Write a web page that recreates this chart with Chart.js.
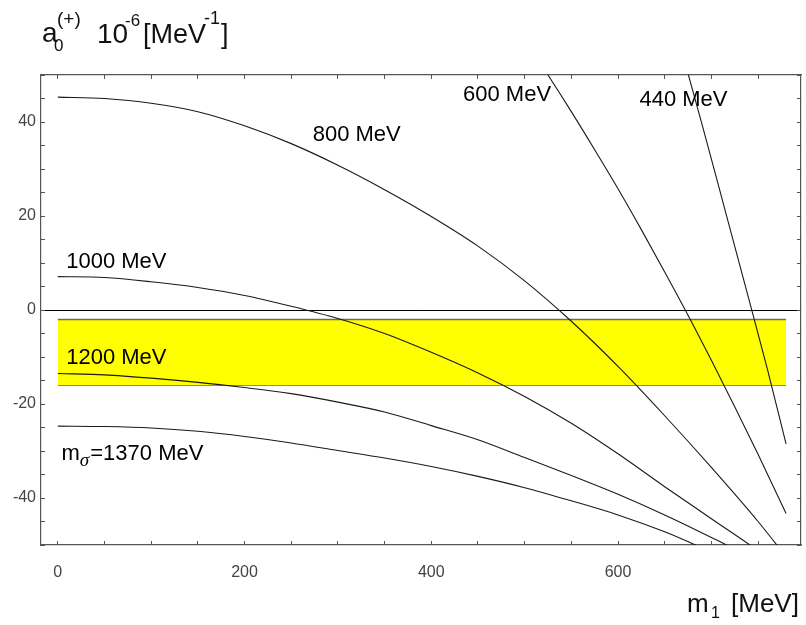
<!DOCTYPE html>
<html>
<head>
<meta charset="utf-8">
<script src="https://cdn.jsdelivr.net/npm/chart.js@4.4.0/dist/chart.umd.min.js"></script>
<style>
html, body { margin: 0; padding: 0; background: #fff; }
</style>
</head>
<body>
<canvas id="myChart" width="806" height="625"></canvas>
<script>
// m1 [MeV] grid for the four flat curves
var m1 = [0, 50, 100, 150, 200, 250, 300, 350, 400, 450, 500, 550, 600, 650, 700, 750, 780];
var a800  = [45.3, 45.0, 44.0, 42.2, 39.2, 35.4, 30.8, 25.6, 19.9, 13.6, 6.2, -2.4, -12.0, -22.5, -33.5, -45.0, -52.5];
var a1000 = [7.1, 6.9, 6.0, 4.8, 3.1, 0.8, -1.8, -5.0, -9.0, -13.4, -18.4, -24.1, -30.6, -37.6, -44.4, -51.2, -55.5];
var a1200 = [-13.5, -13.8, -14.5, -15.4, -16.5, -17.8, -19.6, -21.7, -24.6, -27.6, -31.4, -35.2, -39.2, -43.6, -48.4, -53.5, -57.0];
var a1370 = [-24.7, -24.8, -25.1, -25.8, -26.9, -28.3, -29.9, -31.5, -33.3, -35.4, -37.8, -40.6, -43.6, -47.2, -51.5, -56.0, -59.0];

// the two steep curves
var x600 = [500, 525, 550, 575, 600, 625, 650, 675, 700, 725, 750, 780];
var a600 = [57.5, 50.0, 42.2, 34.1, 25.8, 17.1, 8.1, -1.1, -10.7, -20.6, -30.7, -43.3];
var x440 = [665, 690, 715, 740, 760, 780];
var a440 = [57.5, 39.5, 21.0, 2.4, -12.6, -28.5];

// yellow band
var bandX = [0, 780];
var bandTop = [-2, -2];
var bandBottom = [-16, -16];

// curve labels (data coords of left end / baseline)
var labelText = ['800 MeV', '1000 MeV', '600 MeV', '440 MeV', '1200 MeV', '=1370 MeV'];
var labelX = [273, 9, 434, 623, 9, 4];
var labelY = [36.0, 9.0, 44.5, 43.4, -11.4, -32.0];

var xMin = -18, xMax = 796;
var yMin = -50, yMax = 50;

var fam = '"Liberation Sans", Arial, sans-serif';

function pts(xs, ys) {
	var out = [];
	for (var i = 0; i < xs.length; i++) out.push({x: xs[i], y: ys[i]});
	return out;
}

function curve(xs, ys) {
	return {
		data: pts(xs, ys),
		borderColor: '#1a1a1a',
		borderWidth: 1.1,
		pointRadius: 0,
		fill: false,
		cubicInterpolationMode: 'monotone',
		order: 1
	};
}

/* テキストの描画（曲線ラベル・軸タイトル） */
var textPlugin = {
	id: 'texts',
	afterDatasetsDraw: function(chart) {
		var ctx = chart.ctx;
		var xs = chart.scales.x, ys = chart.scales.y;
		ctx.save();
		ctx.fillStyle = '#000';
		ctx.textAlign = 'left';
		ctx.textBaseline = 'alphabetic';

		for (var i = 0; i < labelText.length; i++) {
			var px = xs.getPixelForValue(labelX[i]);
			var py = ys.getPixelForValue(labelY[i]);
			if (labelText[i].charAt(0) == '=') {
				// m_sigma
				ctx.font = '22px ' + fam;
				ctx.fillText('m', px, py);
				var w = ctx.measureText('m').width;
				ctx.font = 'italic 19px "Liberation Serif", serif';
				ctx.fillText('\u03c3', px + w, py + 6);
				var w2 = ctx.measureText('\u03c3').width;
				ctx.font = '22px ' + fam;
				ctx.fillText(labelText[i], px + w + w2 + 1, py);
			} else {
				ctx.font = '22px ' + fam;
				ctx.fillText(labelText[i], px, py);
			}
		}

		// y title: a0(+) 10^-6 [MeV^-1]
		ctx.fillStyle = '#111';
		ctx.font = '28px ' + fam;
		ctx.fillText('a', 42, 42);
		ctx.font = '17px ' + fam;
		ctx.fillText('0', 54, 51);
		ctx.font = '19px ' + fam;
		ctx.fillText('(+)', 57, 25);
		ctx.font = '28px ' + fam;
		ctx.fillText('10', 97, 43);
		ctx.font = '17px ' + fam;
		ctx.fillText('-6', 125, 26);
		ctx.font = '27px ' + fam;
		ctx.fillText('[MeV', 143, 43);
		ctx.font = '18px ' + fam;
		ctx.fillText('-1', 204, 24);
		ctx.font = '27px ' + fam;
		ctx.fillText(']', 221, 43);

		// x title: m1 [MeV]
		ctx.font = '26px ' + fam;
		ctx.fillText('m', 687, 612);
		ctx.font = '16px ' + fam;
		ctx.fillText('1', 711, 618);
		ctx.font = '26px ' + fam;
		ctx.fillText('[MeV]', 731, 612);
		ctx.restore();
	}
};

var ctx = document.getElementById('myChart').getContext('2d');

var myChart = new Chart(ctx, {
	type: 'line',
	data: {
		datasets: [
			curve(m1, a800),
			curve(m1, a1000),
			curve(m1, a1200),
			curve(m1, a1370),
			curve(x600, a600),
			curve(x440, a440),
			{
				// band top (filled down to the next dataset)
				data: pts(bandX, bandTop),
				borderColor: '#6e6e50',
				borderWidth: 1.5,
				backgroundColor: '#ffff00',
				pointRadius: 0,
				fill: '+1',
				order: 5
			},
			{
				data: pts(bandX, bandBottom),
				borderColor: '#6e6e50',
				borderWidth: 1.5,
				pointRadius: 0,
				fill: false,
				order: 5
			}
		]
	},
	plugins: [textPlugin],
	options: {
		responsive: false,
		animation: false,
		devicePixelRatio: 1,
		layout: { padding: 0 },
		plugins: {
			legend: { display: false },
			tooltip: { enabled: false }
		},
		scales: {
			x: {
				type: 'linear',
				position: 'bottom',
				min: xMin,
				max: xMax,
				ticks: {
					stepSize: 50,
					includeBounds: false,
					autoSkip: false,
					maxRotation: 0,
					padding: 22,
					color: '#444',
					font: { family: fam, size: 16 },
					callback: function(v) { return v % 200 === 0 ? v : ''; }
				},
				grid: { drawOnChartArea: false, tickLength: -4, tickColor: '#555' },
				border: { color: '#555', width: 1.2 },
				afterFit: function(s) { s.height = 80; }
			},
			x2: {
				type: 'linear',
				position: 'top',
				min: xMin,
				max: xMax,
				ticks: { stepSize: 50, includeBounds: false, display: false },
				grid: { drawOnChartArea: false, tickLength: -4, tickColor: '#555' },
				border: { color: '#555', width: 1.2 },
				afterFit: function(s) { s.height = 75; }
			},
			y: {
				type: 'linear',
				position: 'left',
				min: yMin,
				max: yMax,
				ticks: {
					stepSize: 5,
					autoSkip: false,
					padding: 9,
					color: '#444',
					font: { family: fam, size: 16 },
					callback: function(v) { return v % 20 === 0 ? v : ''; }
				},
				grid: {
					tickLength: -4,
					tickColor: '#555',
					lineWidth: 1,
					color: function(c) { return (c.tick && c.tick.value === 0) ? '#000' : 'rgba(0,0,0,0)'; }
				},
				border: { color: '#555', width: 1.2 },
				afterFit: function(s) { s.width = 41; }
			},
			y2: {
				type: 'linear',
				position: 'right',
				min: yMin,
				max: yMax,
				ticks: { stepSize: 5, display: false },
				grid: { drawOnChartArea: false, tickLength: -4, tickColor: '#555' },
				border: { color: '#555', width: 1.2 },
				afterFit: function(s) { s.width = 5; }
			}
		}
	}
});
</script>
</body>
</html>
